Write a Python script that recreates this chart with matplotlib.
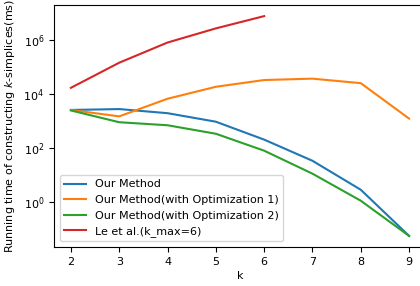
import numpy as np
from matplotlib import pyplot as plt
from matplotlib.ticker import NullLocator

k = [2, 3, 4, 5, 6, 7, 8, 9]
k_le = [2, 3, 4, 5, 6]

# running time (ms)
ours = [2500, 2700, 1900, 920, 200, 33, 2.8, 0.055]
ours_opt1 = [2500, 1450, 6500, 18000, 32000, 36000, 24500, 1200]
ours_opt2 = [2400, 880, 680, 330, 78, 11, 1.1, 0.055]
le_et_al = [16500, 140000, 780000, 2.6e6, 7.4e6]

y_ticks = [1, 1e2, 1e4, 1e6]

plt.rcParams['font.size'] = 8

fig = plt.figure(figsize=(4.2, 2.86), dpi=100)
ax = fig.add_axes([54 / 420, 1 - 247 / 286, 372 / 420, 242 / 286])

ax.plot(k, ours, label="Our Method")
ax.plot(k, ours_opt1, label="Our Method(with Optimization 1)")
ax.plot(k, ours_opt2, label="Our Method(with Optimization 2)")
ax.plot(k_le, le_et_al, label="Le et al.(k_max=6)")

ax.set_yscale('log')
ax.set_ylim(10 ** -1.67, 10 ** 7.28)
ax.set_yticks(y_ticks)
ax.yaxis.set_minor_locator(NullLocator())
ax.set_xlabel("k", labelpad=3)
ax.set_ylabel("Running time of constructing $k$-simplices(ms)", labelpad=5)
ax.legend(loc='lower left')

fig.savefig("out.png", dpi=100)
